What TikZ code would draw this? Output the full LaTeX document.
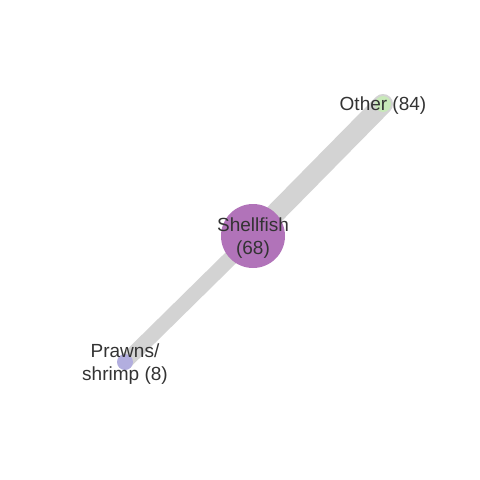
\documentclass[tikz,border=0pt]{standalone}
\usepackage{fontspec}
\setmainfont{Liberation Sans}
\usetikzlibrary{positioning}
\pgfdeclarelayer{background}
\pgfsetlayers{background,main}
\definecolor{shellpurple}{HTML}{B173B9}
\definecolor{otherfill}{HTML}{C8E9B9}
\definecolor{prawnfill}{HTML}{B2AEDF}
\definecolor{edgegray}{HTML}{D3D3D3}
\definecolor{labeltext}{HTML}{333333}

\begin{document}
\begin{tikzpicture}[
  x=1pt, y=-1pt,
  blob/.style={circle, draw=none, inner sep=0pt},
  tag/.style={font=\fontsize{19}{22.5}\selectfont, text=labeltext, align=center, yshift=-2pt},
  link/.style={draw=edgegray, line cap=round}
]
  \useasboundingbox (0,0) rectangle (480,480);

  % Nodes
  \node[blob, fill=shellpurple, minimum size=64pt,
        label={[tag]center:Shellfish\\(68)}] (shell) at (253,236) {};
  \node[blob, fill=otherfill, minimum size=16pt,
        label={[tag]center:Other (84)}] (other) at (383,104) {};
  \node[blob, fill=prawnfill, minimum size=16pt,
        label={[tag]center:Prawns/\\shrimp (8)}] (prawn) at (125,362) {};

  % Edges
  \begin{pgfonlayer}{background}
    \draw[link, line width=20pt] (shell.center) -- (other.center);
    \draw[link, line width=15pt] (shell.center) -- (prawn.center);
  \end{pgfonlayer}
\end{tikzpicture}
\end{document}
